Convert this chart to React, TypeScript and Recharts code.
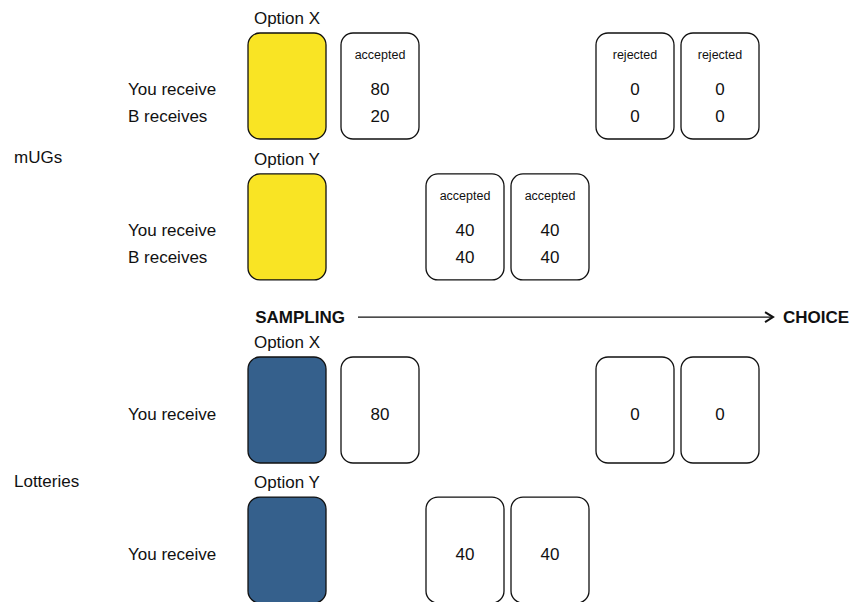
import React from 'react';
import { ScatterChart, Scatter, XAxis, YAxis, ReferenceLine } from 'recharts';

// panel / option names
const panelNames = ['mUGs', 'Lotteries'];
const optionNames = ['Option X', 'Option Y'];
const ugRowLabels = ['You receive', 'B receives'];
const lotteryRowLabels = ['You receive'];
const processLabels = ['SAMPLING', 'CHOICE'];

// mini ultimatum games: draw number, status, what you get, what B gets
const ugXDraws = [1, 4, 5];
const ugXStatus = ['accepted', 'rejected', 'rejected'];
const ugXYou = [80, 0, 0];
const ugXB = [20, 0, 0];
const ugYDraws = [2, 3];
const ugYStatus = ['accepted', 'accepted'];
const ugYYou = [40, 40];
const ugYB = [40, 40];

// lotteries: draw number, outcome
const lotXDraws = [1, 4, 5];
const lotXYou = [80, 0, 0];
const lotYDraws = [2, 3];
const lotYYou = [40, 40];

const YELLOW = '#f9e424';
const BLUE = '#35608c';
const INK = '#111';
const FONT = '"Liberation Sans", Arial, Helvetica, sans-serif';

const W = 867;
const X_DOMAIN = [-3.4706, 6.7294];
const OPTION_DRAW = -0.094;
const ROW_LABEL_DRAW = -1.965;
const PANEL_LABEL_DRAW = -3.306;
const ARROW_FROM = 0.741;
const ARROW_TO = 5.624;
const ARROW_ROW = -0.664;

const CARD_W = 78;
const CARD_H = 106;
const LINE_DY: Record<number, number[]> = { 1: [3], 2: [2, 29] };

const txt = (x: number, y: number, s: any, size = 17, anchor = 'middle', weight = 400, key?: any) => (
  <text
    key={key}
    x={x}
    y={y + 1.2}
    textAnchor={anchor as any}
    dominantBaseline="central"
    fontSize={size}
    fontWeight={weight}
    fontFamily={FONT}
    fill={INK}
  >
    {s}
  </text>
);

const Card = (props: any) => {
  const { cx, cy, payload } = props;
  const offs = LINE_DY[payload.lines.length];
  return (
    <g>
      <rect
        x={cx - CARD_W / 2}
        y={cy - CARD_H / 2}
        width={CARD_W}
        height={CARD_H}
        rx={12}
        fill="#fff"
        stroke={INK}
        strokeWidth={1.3}
      />
      {payload.status && txt(cx, cy - 32, payload.status, 12.5)}
      {payload.lines.map((v: number, j: number) => txt(cx, cy + offs[j], v, 17, 'middle', 400, j))}
    </g>
  );
};

const OptionCard = (props: any) => {
  const { cx, cy, payload } = props;
  return (
    <g>
      <rect
        x={cx - CARD_W / 2}
        y={cy - CARD_H / 2}
        width={CARD_W}
        height={CARD_H}
        rx={12}
        fill={payload.fill}
        stroke={INK}
        strokeWidth={1.3}
      />
      {txt(cx, cy - 68.5, payload.name, 17)}
    </g>
  );
};

const RowLabel = (props: any) => {
  const { cx, cy, payload } = props;
  const offs = LINE_DY[payload.lines.length];
  return <g>{payload.lines.map((s: string, j: number) => txt(cx, cy + offs[j], s, 17, 'start', 400, j))}</g>;
};

const PanelLabel = (props: any) => {
  const { cx, cy, payload } = props;
  return txt(cx, cy, payload.name, 17, 'start');
};

const Arrow = (props: any) => {
  const { x1, y1, x2 } = props;
  return (
    <g>
      <line x1={x1} y1={y1} x2={x2} y2={y1} stroke={INK} strokeWidth={1.3} />
      <polyline
        points={`${x2 - 8},${y1 - 5} ${x2},${y1} ${x2 - 8},${y1 + 5}`}
        fill="none"
        stroke={INK}
        strokeWidth={2}
      />
      {txt(x1 - 13, y1 - 1, processLabels[0], 17, 'end', 700)}
      {txt(x2 + 10, y1 - 1, processLabels[1], 17, 'start', 700)}
    </g>
  );
};

const makeCards = (draws: number[], row: number, status: (string | null)[], cols: number[][]) =>
  draws.map((d, k) => ({ draw: d, row, status: status[k], lines: cols.map((c) => c[k]) }));

interface PanelProps {
  name: string;
  fill: string;
  rowLabels: string[];
  cards: any[];
  height: number;
  yDomain: number[];
  arrow?: boolean;
}

const Panel = ({ name, fill, rowLabels, cards, height, yDomain, arrow }: PanelProps) => {
  const options = optionNames.map((n, i) => ({ draw: OPTION_DRAW, row: i, name: n, fill }));
  const labels = optionNames.map((_, i) => ({ draw: ROW_LABEL_DRAW, row: i, lines: rowLabels }));
  const panel = [{ draw: PANEL_LABEL_DRAW, row: 0.5, name }];
  return (
    <ScatterChart width={W} height={height} margin={{ top: 0, right: 0, bottom: 0, left: 0 }}>
      <XAxis type="number" dataKey="draw" domain={X_DOMAIN} allowDataOverflow hide />
      <YAxis type="number" dataKey="row" domain={yDomain} allowDataOverflow reversed hide />
      {arrow && (
        <ReferenceLine
          segment={[
            { x: ARROW_FROM, y: ARROW_ROW },
            { x: ARROW_TO, y: ARROW_ROW },
          ]}
          shape={(p: any) => <Arrow {...p} />}
        />
      )}
      <Scatter data={panel} shape={(p: any) => <PanelLabel {...p} />} isAnimationActive={false} />
      <Scatter data={labels} shape={(p: any) => <RowLabel {...p} />} isAnimationActive={false} />
      <Scatter data={options} shape={(p: any) => <OptionCard {...p} />} isAnimationActive={false} />
      <Scatter data={cards} shape={(p: any) => <Card {...p} />} isAnimationActive={false} />
    </ScatterChart>
  );
};

const ugCards = [
  ...makeCards(ugXDraws, 0, ugXStatus, [ugXYou, ugXB]),
  ...makeCards(ugYDraws, 1, ugYStatus, [ugYYou, ugYB]),
];
const lotCards = [
  ...makeCards(lotXDraws, 0, lotXDraws.map(() => null), [lotXYou]),
  ...makeCards(lotYDraws, 1, lotYDraws.map(() => null), [lotYYou]),
];

export default function App() {
  return (
    <div style={{ width: W, height: 602, background: '#fff', overflow: 'hidden' }}>
      <style>{'body{margin:0}'}</style>
      <Panel
        name={panelNames[0]}
        fill={YELLOW}
        rowLabels={ugRowLabels}
        cards={ugCards}
        height={300}
        yDomain={[-0.61, 1.518]}
      />
      <Panel
        name={panelNames[1]}
        fill={BLUE}
        rowLabels={lotteryRowLabels}
        cards={lotCards}
        height={302}
        yDomain={[-0.7857, 1.371]}
        arrow
      />
    </div>
  );
}
